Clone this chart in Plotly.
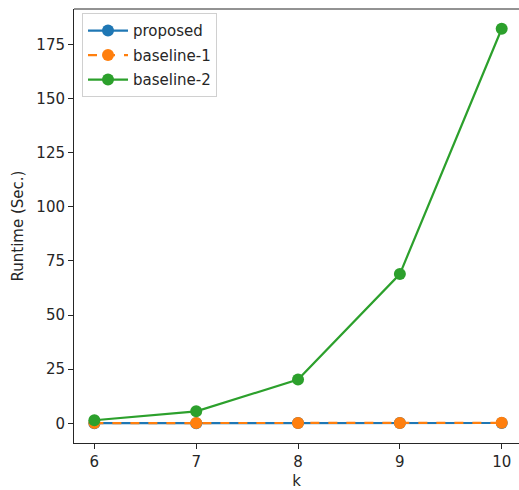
import plotly.graph_objects as go

# Problem size k and measured runtimes in seconds
k_values = [6, 7, 8, 9, 10]
proposed = [0.05, 0.06, 0.08, 0.1, 0.12]
baseline_1 = [0.08, 0.1, 0.12, 0.15, 0.2]
baseline_2 = [1.4, 5.5, 20.2, 68.9, 182.2]

y_ticks = [0, 25, 50, 75, 100, 125, 150, 175]

BLUE = "#1f77b4"
ORANGE = "#ff7f0e"
GREEN = "#2ca02c"
TEXT = "#262626"
FONT = "DejaVu Sans"
FS = 15

fig = go.Figure()
series = [
    ("proposed", proposed, BLUE, "solid"),
    ("baseline-1", baseline_1, ORANGE, "dash"),
    ("baseline-2", baseline_2, GREEN, "solid"),
]
for i, (name, vals, color, dash) in enumerate(series):
    fig.add_trace(go.Scatter(
        x=k_values, y=vals, name=name, mode="lines+markers",
        line=dict(color=color, width=2.2, dash=dash),
        marker=dict(color=color, size=12),
        legendgroup=f"g{i}",
    ))

y_max = max(baseline_2)
pad = 0.05 * y_max

axis_common = dict(
    showgrid=False, zeroline=False, showline=True, linecolor=TEXT, linewidth=1,
    ticks="outside", ticklen=5, tickwidth=1, tickcolor=TEXT,
    tickfont=dict(family=FONT, size=FS, color=TEXT),
)

# top spine of the frame
fig.add_shape(type="line", xref="paper", yref="paper", x0=0, x1=1, y0=1, y1=1,
              line=dict(color=TEXT, width=1), layer="above")

fig.update_layout(
    width=519, height=490,
    margin=dict(l=74, r=0, t=9, b=45),
    paper_bgcolor="white", plot_bgcolor="white",
    font=dict(family=FONT, size=FS, color=TEXT),
    xaxis=dict(range=[5.8, 10.17], tickvals=k_values, ticktext=[str(k) for k in k_values],
               title=dict(text="k", font=dict(family=FONT, size=FS, color=TEXT), standoff=8),
               mirror=False, **axis_common),
    yaxis=dict(range=[-pad, y_max + pad], tickvals=y_ticks, ticktext=[str(v) for v in y_ticks],
               title=dict(text="Runtime (Sec.)", font=dict(family=FONT, size=FS, color=TEXT), standoff=9),
               mirror=False, **axis_common),
    legend=dict(
        x=0.018, y=0.99, xanchor="left", yanchor="top",
        bgcolor="rgba(255,255,255,0.8)", bordercolor="#d0d0d0", borderwidth=1,
        font=dict(family=FONT, size=FS, color=TEXT),
        tracegroupgap=2, itemwidth=40,
    ),
    showlegend=True,
)

fig.write_html("out.html")
